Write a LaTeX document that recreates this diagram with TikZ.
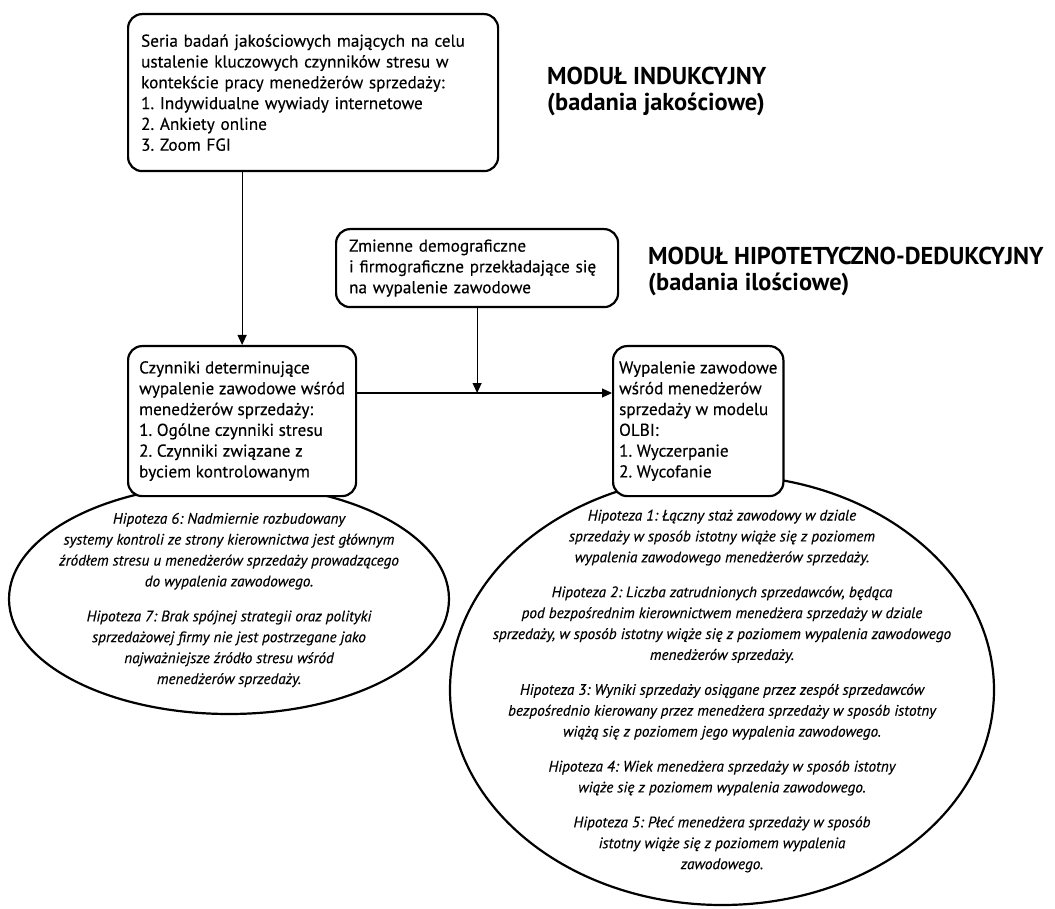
\documentclass[tikz,border=0pt]{standalone}
\usepackage{fontspec}
\setmainfont{PT Sans}[UprightFeatures={FakeBold=0.3}, ItalicFeatures={FakeBold=0.3}]
\usetikzlibrary{arrows.meta,positioning}
\newcommand\fntbox{\fontsize{17.2}{20.8}\selectfont\frenchspacing}
\newcommand\fnthypo{\fontsize{15.2}{20.9}\selectfont\itshape\frenchspacing}
\newcommand\fntmod{\fontsize{24.4}{26}\selectfont\bfseries}
\tikzset{
  box/.style={draw, fill=white, line width=2.2pt, rounded corners=14pt, align=left,
    anchor=north west, inner xsep=13pt, inner ysep=0pt, font=\fntbox},
  hypo/.style={align=center, inner sep=0pt, font=\fnthypo},
  oval/.style={line width=2.2pt},
  modul/.style={anchor=west, align=left, inner sep=0pt, font=\fntmod},
  arrow/.style={-{Triangle[length=10pt,width=9pt]}, line width=1.1pt}
}

\begin{document}
\begin{tikzpicture}[x=1pt, y=-1pt]
  \useasboundingbox (0,0) rectangle (1055,909);
  % hypotheses
  \draw[oval] (229,599) ellipse [x radius=220, y radius=115];
  \draw[oval] (722,690) ellipse [x radius=272, y radius=215];
  \node[hypo] (hyp67) at (229,600) {Hipoteza 6: Nadmiernie rozbudowany\\
    systemy kontroli ze strony kierownictwa jest głównym\\
    źródłem stresu u menedżerów sprzedaży prowadzącego\\
    do wypalenia zawodowego.\\[14pt]
    Hipoteza 7: Brak spójnej strategii oraz polityki\\
    sprzedażowej firmy nie jest postrzegane jako\\
    najważniejsze źródło stresu wśród\\
    menedżerów sprzedaży.};
  \node[hypo] (hyp15) at (722,691) {Hipoteza 1: Łączny staż zawodowy w dziale\\
    sprzedaży w sposób istotny wiąże się z poziomem\\
    wypalenia zawodowego menedżerów sprzedaży.\\[14pt]
    Hipoteza 2: Liczba zatrudnionych sprzedawców, będąca\\
    pod bezpośrednim kierownictwem menedżera sprzedaży w dziale\\
    sprzedaży, w sposób istotny wiąże się z poziomem wypalenia zawodowego\\
    menedżerów sprzedaży.\\[14pt]
    Hipoteza 3: Wyniki sprzedaży osiągane przez zespół sprzedawców\\
    bezpośrednio kierowany przez menedżera sprzedaży w sposób istotny\\
    wiążą się z poziomem jego wypalenia zawodowego.\\[14pt]
    Hipoteza 4: Wiek menedżera sprzedaży w sposób istotny\\
    wiąże się z poziomem wypalenia zawodowego.\\[14pt]
    Hipoteza 5: Płeć menedżera sprzedaży w sposób\\
    istotny wiąże się z poziomem wypalenia\\
    zawodowego.};
  % boxes
  \node[box, minimum width=370, minimum height=157, text width=344] (seria) at (127,13)
    {Seria badań jakościowych mających na celu\\
     ustalenie kluczowych czynników stresu w\\
     kontekście pracy menedżerów sprzedaży:\\
     1. Indywidualne wywiady internetowe\\
     2. Ankiety online\\
     3. Zoom FGI};
  \node[box, minimum width=282, minimum height=78, text width=256] (zmienne) at (335,228)
    {Zmienne demograficzne\\
     i firmograficzne przekładające się\\
     na wypalenie zawodowe};
  \node[box, minimum width=228, minimum height=150, inner xsep=6pt] (czynniki) at (127,345)
    {Czynniki determinujące\\
     wypalenie zawodowe wśród\\
     menedżerów sprzedaży:\\
     1. Ogólne czynniki stresu\\
     2. Czynniki związane z\\
     byciem kontrolowanym};
  \node[box, minimum width=160, minimum height=150, inner xsep=6pt] (olbi) at (612,345)
    {Wypalenie zawodowe\\
     wśród menedżerów\\
     sprzedaży w modelu\\
     OLBI:\\
     1. Wyczerpanie\\
     2. Wycofanie};
  % module labels
  \node[modul] (indukcja) at (547,91) {MODUŁ INDUKCYJNY\\(badania jakościowe)};
  \node[modul] (dedukcja) at (648,271) {MODUŁ HIPOTETYCZNO-DEDUKCYJNY\\(badania ilościowe)};
  % arrows
  \coordinate (join) at (476,393);
  \draw[arrow] (czynniki.north |- seria.south) -- (czynniki.north);
  \draw[arrow] (zmienne.south) -- (zmienne.south |- join);
  \draw[arrow] (czynniki.east |- join) -- (olbi.west |- join);
\end{tikzpicture}
\end{document}
